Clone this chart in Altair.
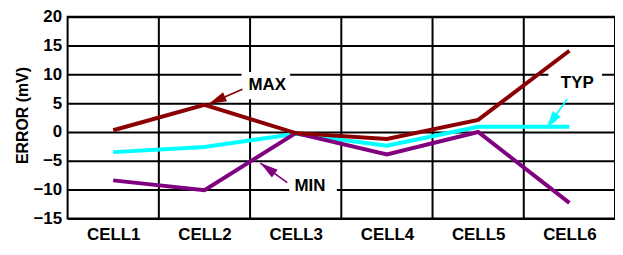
import json
import math
import altair as alt
import pandas as pd

# ---------------- data ----------------
cells = ["CELL1", "CELL2", "CELL3", "CELL4", "CELL5", "CELL6"]
max_err = [0.3, 4.7, -0.2, -1.2, 2.1, 14.1]
typ_err = [-3.5, -2.6, -0.3, -2.4, 0.9, 0.9]
min_err = [-8.4, -10.1, -0.2, -3.9, 0.0, -12.3]
y_ticks = [-15, -10, -5, 0, 5, 10, 15, 20]

series_names = ["MAX", "TYP", "MIN"]
series_colors = ["#8B0000", "#00FFFF", "#800080"]

# annotations (data coordinates: x = cell index, y = mV)
ann_labels = ["MAX", "MIN", "TYP"]
ann_colors = ["#8B0000", "#800080", "#00FFFF"]
ann_text_x = [2.689, 3.157, 6.086]
ann_text_y = [8.19, -9.40, 8.44]
ann_box_x = [2.406, 2.928, 5.770]
ann_box_x2 = [2.939, 3.451, 6.358]
ann_box_y = [10.4, -7.8, 10.4]
ann_box_y2 = [5.7, -11.0, 6.0]
ann_from_x = [2.416, 2.907, 5.977]
ann_from_y = [7.42, -8.80, 5.71]
ann_tip_x = [2.046, 2.613, 5.749]
ann_tip_y = [4.86, -5.39, 0.59]

W, H = 551, 203
X_DOMAIN = [0.5, len(cells) + 0.5]
Y_DOMAIN = [y_ticks[0], y_ticks[-1]]
FONT = "Liberation Sans"

# ---------------- tables ----------------
idx = list(range(1, len(cells) + 1))
series_df = {
    "MAX": pd.DataFrame({"i": idx, "v": max_err}),
    "TYP": pd.DataFrame({"i": idx, "v": typ_err}),
    "MIN": pd.DataFrame({"i": idx, "v": min_err}),
}
bounds_df = pd.DataFrame({"i": [i + 0.5 for i in idx[:-1]]})

px_x = W / (X_DOMAIN[1] - X_DOMAIN[0])
px_y = H / (Y_DOMAIN[1] - Y_DOMAIN[0])
angles = []
for fx, fy, tx, ty in zip(ann_from_x, ann_from_y, ann_tip_x, ann_tip_y):
    dx = (tx - fx) * px_x
    dy = -(ty - fy) * px_y
    angles.append(math.degrees(math.atan2(dx, -dy)) % 360)

ann_df = pd.DataFrame({
    "label": ann_labels, "color": ann_colors,
    "tx": ann_text_x, "ty": ann_text_y,
    "bx": ann_box_x, "bx2": ann_box_x2, "by": ann_box_y, "by2": ann_box_y2,
    "fx": ann_from_x, "fy": ann_from_y, "px": ann_tip_x, "py": ann_tip_y,
    "angle": angles,
})

xs = alt.Scale(domain=X_DOMAIN, nice=False, zero=False)
ys = alt.Scale(domain=Y_DOMAIN, nice=False, zero=False)

label_expr = json.dumps(cells).replace('"', "'") + "[datum.value - 1]"

x_axis = alt.Axis(values=idx, labelExpr=label_expr, grid=False, ticks=False,
                  domain=False, labelFont=FONT, labelFontSize=17,
                  labelFontWeight="bold", labelColor="black", labelPadding=8,
                  title=None)
y_axis = alt.Axis(values=y_ticks, grid=True, gridColor="black", gridWidth=2,
                  gridOpacity=1, ticks=False, domain=False, labelFont=FONT,
                  labelFontSize=17, labelFontWeight="bold", labelColor="black",
                  labelPadding=6, title="ERROR (mV)", titleFont=FONT,
                  titleFontSize=16, titleFontWeight="bold", titleColor="black",
                  titleX=-45, titleY=99, titleBaseline="middle")


def X(field):
    return alt.X(field, type="quantitative", scale=xs, axis=x_axis)


def Y(field):
    return alt.Y(field, type="quantitative", scale=ys, axis=y_axis)


vgrid = alt.Chart(bounds_df).mark_rule(color="black", strokeWidth=2).encode(
    x=X("i")
)

line_layers = []
for name in ["TYP", "MIN", "MAX"]:
    col = series_colors[series_names.index(name)]
    line_layers.append(
        alt.Chart(series_df[name]).mark_line(color=col, strokeWidth=4).encode(
            x=X("i"), y=Y("v")
        )
    )

boxes = alt.Chart(ann_df).mark_rect(color="white").encode(
    x=X("bx"), x2="bx2:Q", y=Y("by"), y2="by2:Q",
)

texts = alt.Chart(ann_df).mark_text(
    font=FONT, fontSize=17, fontWeight="bold", color="black",
    align="center", baseline="middle",
).encode(x=X("tx"), y=Y("ty"), text="label:N")

arrow_lines = alt.Chart(ann_df).mark_rule(strokeWidth=1.6).encode(
    x=X("fx"), x2="px:Q", y=Y("fy"), y2="py:Q",
    color=alt.Color("color:N", scale=None, legend=None),
)

arrow_heads = alt.Chart(ann_df).mark_point(
    shape="M0,0L0.55,2L-0.55,2Z", filled=True, size=324, opacity=1,
).encode(
    x=X("px"), y=Y("py"),
    angle=alt.Angle("angle:Q", scale=None),
    color=alt.Color("color:N", scale=None, legend=None),
)

chart = alt.layer(
    vgrid, *line_layers, boxes, texts, arrow_lines, arrow_heads
).properties(
    width=W, height=H,
    autosize=alt.AutoSizeParams(type="none"),
    padding={"left": 60, "top": 8, "right": 0, "bottom": 28},
    background="white",
).configure_view(stroke="black", strokeWidth=2)

chart.save("out.html", embed_options={"renderer": "svg", "actions": False})
